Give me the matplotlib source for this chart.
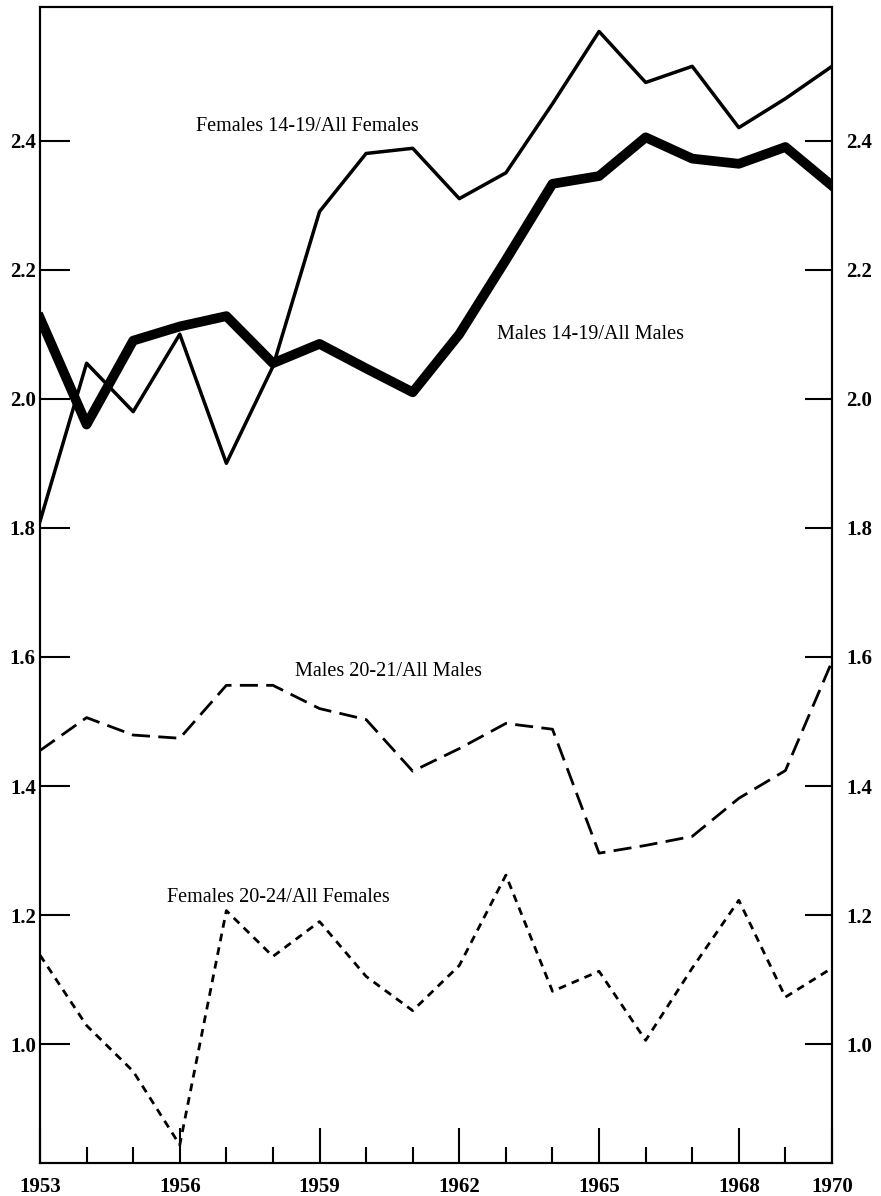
import matplotlib
matplotlib.use('Agg')
import matplotlib.pyplot as plt
from matplotlib.ticker import FixedLocator, MultipleLocator

matplotlib.rcParams['font.family'] = 'Liberation Serif'

years = list(range(1953, 1971))
females_14_19 = [1.81, 2.055, 1.98, 2.10, 1.90, 2.05, 2.29, 2.38, 2.388, 2.31,
                 2.35, 2.457, 2.569, 2.49, 2.515, 2.42, 2.465, 2.515]
males_14_19 = [2.125, 1.96, 2.09, 2.112, 2.128, 2.055, 2.085, 2.047, 2.01, 2.10,
               2.215, 2.333, 2.345, 2.405, 2.372, 2.364, 2.39, 2.33]
males_20_21 = [1.455, 1.506, 1.479, 1.474, 1.556, 1.556, 1.52, 1.503, 1.423, 1.458,
               1.497, 1.488, 1.296, 1.308, 1.322, 1.381, 1.424, 1.593]
females_20_24 = [1.138, 1.029, 0.958, 0.844, 1.207, 1.136, 1.19, 1.105, 1.052, 1.122,
                 1.262, 1.082, 1.113, 1.006, 1.118, 1.223, 1.073, 1.118]

y_ticks = [1.0, 1.2, 1.4, 1.6, 1.8, 2.0, 2.2, 2.4]
x_label_years = [1953, 1956, 1959, 1962, 1965, 1968, 1970]

fig = plt.figure(figsize=(8.81, 11.96), dpi=100)
ax = fig.add_axes([0.0454, 0.0276, 0.899, 0.9666])

ax.plot(years, females_14_19, color='black', lw=2.5)
ax.plot(years, males_14_19, color='black', lw=7)
ax.plot(years, males_20_21, color='black', lw=2.0, ls=(0, (6.5, 3)))
ax.plot(years, females_20_24, color='black', lw=2.0, ls=(0, (2.8, 2.2)))

ax.set_xlim(1953, 1970)
ax.set_ylim(0.816, 2.607)

ax.text(1956.35, 2.421, 'Females 14-19/All Females', fontsize=14.5, va='center')
ax.text(1962.81, 2.10, 'Males 14-19/All Males', fontsize=14.5, va='center')
ax.text(1958.47, 1.577, 'Males 20-21/All Males', fontsize=14.5, va='center')
ax.text(1955.73, 1.228, 'Females 20-24/All Females', fontsize=14.5, va='center')

for s in ax.spines.values():
    s.set_linewidth(1.5)

# x axis: long ticks on labelled years, short ones every year
ax.xaxis.set_major_locator(FixedLocator(x_label_years))
ax.xaxis.set_minor_locator(MultipleLocator(1))
ax.set_xticklabels([str(y) for y in x_label_years])
ax.tick_params(axis='x', which='major', direction='in', length=25, width=1.5,
               pad=10, labelsize=15)
ax.tick_params(axis='x', which='minor', direction='in', length=11.5, width=1.5)
for lab in ax.get_xticklabels():
    lab.set_fontweight('bold')

# y axis on both sides
ax.set_yticks(y_ticks)
ax.set_yticklabels(['%.1f' % v for v in y_ticks])
ax.tick_params(axis='y', direction='in', length=21.5, width=1.5, pad=3,
               labelsize=15)
for lab in ax.get_yticklabels():
    lab.set_fontweight('bold')

ax2 = ax.twinx()
ax2.set_ylim(ax.get_ylim())
ax2.set_yticks(y_ticks)
ax2.set_yticklabels(['%.1f' % v for v in y_ticks])
ax2.tick_params(axis='y', direction='in', length=19.5, width=1.5, pad=10,
                labelsize=15)
for lab in ax2.get_yticklabels():
    lab.set_fontweight('bold')
for s in ax2.spines.values():
    s.set_linewidth(1.5)

fig.savefig('out.png', dpi=100)
